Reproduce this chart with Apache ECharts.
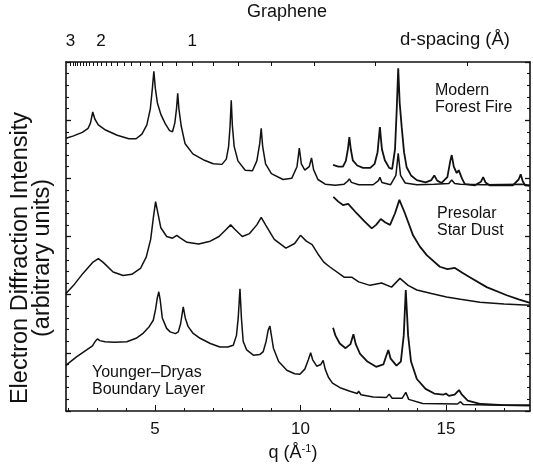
<!DOCTYPE html>
<html>
<head>
<meta charset="utf-8">
<script src="https://cdn.jsdelivr.net/npm/echarts@6/dist/echarts.min.js"></script>
<style>
html,body{margin:0;padding:0;background:#fff;}
#chart{width:533px;height:468px;}
</style>
</head>
<body>
<div id="chart"></div>
<script>
// ---- axis ranges / ticks ----
const xRange = [1.94, 17.89];
const yRange = [0, 6];
const xMajorTicks = [5, 10, 15];
const xMinorTicks = [2, 3, 4, 6, 7, 8, 9, 11, 12, 13, 14, 16, 17];
const dTickValues = [3.0, 2.9, 2.8, 2.7, 2.6, 2.5, 2.4, 2.3, 2.2, 2.1, 2.0, 1.9, 1.8, 1.7, 1.6, 1.5, 1.4, 1.3, 1.2, 1.1, 1.0, 0.9, 0.8, 0.7, 0.6, 0.5, 0.4];
const dLabelValues = [3, 2, 1];

// ---- series (q in 1/Å, intensity arbitrary, offset stacks) ----
const fireMain = [[1.94,4.69],[2.2,4.73],[2.5,4.79],[2.7,4.86],[2.78,4.95],[2.86,5.14],[2.93,5.02],[3.05,4.92],[3.3,4.83],[3.7,4.74],[4.1,4.68],[4.35,4.68],[4.55,4.76],[4.72,4.92],[4.84,5.2],[4.91,5.55],[4.96,5.84],[5.01,5.55],[5.08,5.3],[5.2,5.1],[5.35,4.94],[5.5,4.82],[5.6,4.8],[5.68,4.95],[5.74,5.2],[5.78,5.46],[5.82,5.2],[5.9,4.9],[6.03,4.6],[6.3,4.42],[6.7,4.31],[7.0,4.25],[7.3,4.24],[7.45,4.33],[7.53,4.55],[7.58,4.9],[7.62,5.34],[7.66,4.9],[7.72,4.55],[7.85,4.3],[8.1,4.14],[8.35,4.13],[8.5,4.3],[8.6,4.6],[8.65,4.86],[8.7,4.55],[8.8,4.25],[9.0,4.08],[9.4,3.98],[9.7,4.0],[9.88,4.2],[9.96,4.52],[10.03,4.25],[10.15,4.14],[10.3,4.2],[10.38,4.35],[10.45,4.15],[10.6,3.98],[10.85,3.9],[11.2,3.88],[11.5,3.9],[11.62,3.95],[11.68,3.99],[11.75,3.93],[12.0,3.89],[12.5,3.89],[12.68,3.96],[12.73,4.02],[12.8,3.93],[13.1,3.89],[13.28,4.05],[13.36,4.43],[13.44,4.05],[13.6,3.92],[14.0,3.89],[14.6,3.9],[15.1,3.91],[15.2,3.97],[15.3,3.91],[15.5,3.9],[16.3,3.89],[17.6,3.9],[17.89,3.88]];
const fireInset = [[11.12,4.23],[11.3,4.2],[11.46,4.2],[11.56,4.3],[11.63,4.5],[11.68,4.71],[11.73,4.5],[11.8,4.31],[11.95,4.22],[12.15,4.18],[12.4,4.18],[12.55,4.25],[12.65,4.45],[12.73,4.88],[12.8,4.5],[12.9,4.31],[13.05,4.18],[13.15,4.16],[13.25,4.5],[13.31,5.2],[13.36,5.89],[13.41,5.3],[13.48,4.88],[13.56,4.45],[13.65,4.19],[13.8,4.05],[14.0,3.97],[14.3,3.93],[14.5,3.97],[14.6,4.05],[14.7,3.96],[14.85,3.92],[15.05,4.02],[15.15,4.3],[15.2,4.4],[15.27,4.2],[15.37,4.09],[15.44,4.14],[15.48,4.16],[15.55,4.0],[15.65,3.9],[16.0,3.88],[16.2,3.94],[16.28,4.02],[16.36,3.93],[16.5,3.88],[17.3,3.88],[17.5,3.98],[17.57,4.07],[17.64,3.95],[17.72,3.88],[17.89,3.87]];
const dustMain = [[1.94,2.02],[2.2,2.16],[2.53,2.37],[2.87,2.56],[3.05,2.62],[3.21,2.56],[3.56,2.39],[3.9,2.33],[4.2,2.35],[4.5,2.45],[4.7,2.65],[4.85,2.95],[4.95,3.35],[5.02,3.6],[5.08,3.45],[5.2,3.15],[5.4,3.0],[5.6,2.97],[5.75,3.02],[5.85,2.98],[6.1,2.9],[6.5,2.87],[6.9,2.92],[7.2,3.0],[7.4,3.1],[7.6,3.2],[7.75,3.12],[8.0,3.0],[8.25,3.05],[8.5,3.2],[8.65,3.33],[8.8,3.2],[9.1,2.95],[9.5,2.8],[9.8,2.88],[10.0,3.02],[10.2,2.92],[10.4,2.86],[10.6,2.7],[10.8,2.56],[11.0,2.48],[11.5,2.3],[11.76,2.3],[12.0,2.22],[12.39,2.16],[12.79,2.2],[13.13,2.13],[13.42,2.28],[13.7,2.16],[14.0,2.08],[14.5,2.02],[15.02,1.96],[15.5,1.92],[16.17,1.87],[17.0,1.84],[17.89,1.82]];
const dustInset = [[11.13,3.68],[11.3,3.6],[11.46,3.54],[11.64,3.56],[11.93,3.4],[12.2,3.26],[12.45,3.14],[12.6,3.2],[12.76,3.3],[12.92,3.24],[13.08,3.2],[13.25,3.4],[13.4,3.63],[13.59,3.4],[13.87,3.02],[14.1,2.83],[14.34,2.68],[14.79,2.48],[15.05,2.44],[15.31,2.46],[15.55,2.38],[15.82,2.3],[16.4,2.13],[17.09,1.99],[17.5,1.92],[17.89,1.86]];
const ydMain = [[1.94,0.78],[2.02,0.82],[2.3,0.93],[2.65,1.05],[2.85,1.12],[2.95,1.2],[3.02,1.24],[3.1,1.21],[3.28,1.19],[3.6,1.18],[4.03,1.19],[4.35,1.25],[4.6,1.34],[4.8,1.45],[4.94,1.56],[5.02,1.75],[5.08,1.95],[5.13,2.05],[5.18,1.9],[5.25,1.6],[5.4,1.42],[5.52,1.36],[5.7,1.33],[5.8,1.36],[5.88,1.5],[5.97,1.79],[6.04,1.6],[6.14,1.45],[6.3,1.34],[6.55,1.25],[6.9,1.16],[7.23,1.10],[7.5,1.1],[7.69,1.13],[7.8,1.3],[7.86,1.6],[7.92,2.1],[7.97,1.6],[8.03,1.2],[8.15,1.05],[8.38,0.96],[8.6,0.97],[8.72,1.02],[8.82,1.2],[8.89,1.39],[8.95,1.46],[9.0,1.3],[9.07,1.08],[9.25,0.85],[9.53,0.7],[9.8,0.64],[9.98,0.63],[10.15,0.72],[10.27,0.88],[10.35,1.0],[10.42,0.88],[10.56,0.77],[10.7,0.8],[10.78,0.87],[10.85,0.72],[10.96,0.58],[11.1,0.48],[11.36,0.4],[11.7,0.34],[11.95,0.3],[12.0,0.34],[12.08,0.28],[12.5,0.24],[12.95,0.23],[13.05,0.29],[13.15,0.22],[13.5,0.22],[13.62,0.32],[13.72,0.2],[14.2,0.13],[15.4,0.12],[15.5,0.16],[15.6,0.11],[17.89,0.09]];
const ydInset = [[11.12,1.43],[11.2,1.3],[11.35,1.16],[11.55,1.08],[11.72,1.15],[11.82,1.32],[11.9,1.15],[12.05,0.98],[12.3,0.85],[12.6,0.76],[12.85,0.8],[12.95,0.95],[13.02,1.05],[13.1,0.9],[13.3,0.78],[13.45,0.85],[13.55,1.3],[13.62,2.08],[13.7,1.3],[13.8,0.85],[14.0,0.55],[14.3,0.38],[14.6,0.3],[14.9,0.28],[15.0,0.3],[15.1,0.26],[15.3,0.28],[15.45,0.36],[15.55,0.28],[15.75,0.18],[16.2,0.12],[17.0,0.1],[17.89,0.1]];

// ---- texts ----
const topTitle = 'Graphene';
const topAxisName = 'd-spacing (Å)';
const yTitle1 = 'Electron Diffraction Intensity';
const yTitle2 = '(arbitrary units)';
const curveLabels = [['Modern', 'Forest Fire'], ['Presolar', 'Star Dust'], ['Younger–Dryas', 'Boundary Layer']];

const TWO_PI = 2 * Math.PI;
const FONT = "'Liberation Sans', Arial, Helvetica, sans-serif";
const INK = '#111';

const chart = echarts.init(document.getElementById('chart'), null, {renderer: 'canvas'});

const xAxes = [
  {type: 'value', position: 'bottom', min: xRange[0], max: xRange[1], splitLine: {show: false},
   axisLine: {show: true, onZero: false, lineStyle: {color: INK, width: 1.6}},
   axisTick: {show: false},
   axisLabel: {show: true, customValues: xMajorTicks, margin: 10, fontSize: 17, color: INK, fontFamily: FONT}},
  {type: 'value', position: 'top', min: xRange[0], max: xRange[1], splitLine: {show: false},
   axisLine: {show: true, onZero: false, lineStyle: {color: INK, width: 1.6}},
   axisTick: {show: false},
   axisLabel: {show: true, customValues: dLabelValues.map(d => TWO_PI / d), margin: 12, fontSize: 17, color: INK, fontFamily: FONT,
     formatter: v => String(Math.round(TWO_PI / v))}}
];

function yAxisBase(pos) {
  return {
    type: 'value', position: pos, min: yRange[0], max: yRange[1], interval: 1,
    axisLine: {show: true, onZero: false, lineStyle: {color: INK, width: 1.6}},
    axisTick: {show: true, inside: true, length: 5, lineStyle: {color: INK, width: 1.3}},
    minorTick: {show: true, splitNumber: 5, length: 3, lineStyle: {color: INK, width: 1.1}},
    axisLabel: {show: false}, splitLine: {show: false}, minorSplitLine: {show: false}
  };
}

function lineSeries(name, data, w) {
  return {name, type: 'line', data, xAxisIndex: 0, yAxisIndex: 0, showSymbol: false, symbol: 'none',
    smooth: false, lineStyle: {color: INK, width: w}, silent: true, animation: false, z: 3};
}

// tick marks drawn through the axis scale (api.coord), snapped to the pixel grid
function tickSeries(values, edge, len) {
  return {type: 'custom', xAxisIndex: 0, yAxisIndex: 0, silent: true, animation: false, z: 5, clip: false,
    data: values.map(v => [v]),
    renderItem: function (params, api) {
      const q = api.value(0);
      const p = api.coord([q, edge === 'top' ? yRange[1] : yRange[0]]);
      const dir = edge === 'top' ? 1 : -1;
      const x = Math.round(p[0]) + 0.5;
      return {type: 'line', shape: {x1: x, y1: p[1], x2: x, y2: p[1] + dir * len},
        style: {stroke: INK, lineWidth: 1}};
    }};
}

function txt(x, y, s, size, extra) {
  return {type: 'text', x, y, style: Object.assign({text: s, fill: INK, font: size + 'px ' + FONT, align: 'left', verticalAlign: 'middle'}, extra || {})};
}

const graphics = [
  txt(287, 12, topTitle, 18, {align: 'center'}),
  txt(510, 40, topAxisName, 18.5, {align: 'right'}),
  {type: 'text', x: 293, y: 453, style: {
    text: '{a|q (Å}{s|-1}{a|)}', fill: INK, align: 'center', verticalAlign: 'middle',
    rich: {a: {fontSize: 18, fontFamily: FONT, fill: INK}, s: {fontSize: 11, fontFamily: FONT, fill: INK, padding: [0, 0, 9, 0]}}}},
  {type: 'text', x: 21, y: 258, rotation: Math.PI / 2, style: {text: yTitle1, fill: INK, font: '23.5px ' + FONT, align: 'center', verticalAlign: 'middle'}},
  {type: 'text', x: 43, y: 258, rotation: Math.PI / 2, style: {text: yTitle2, fill: INK, font: '23.5px ' + FONT, align: 'center', verticalAlign: 'middle'}},
  txt(435, 91, curveLabels[0][0], 16),
  txt(435, 108, curveLabels[0][1], 16),
  txt(437, 214, curveLabels[1][0], 16),
  txt(437, 231, curveLabels[1][1], 16),
  txt(92, 373, curveLabels[2][0], 16),
  txt(92, 390, curveLabels[2][1], 16)
];

chart.setOption({
  animation: false,
  backgroundColor: '#fff',
  grid: {left: 66, right: 3, top: 62, bottom: 57, containLabel: false},
  xAxis: xAxes,
  yAxis: [yAxisBase('left'), yAxisBase('right')],
  series: [
    lineSeries('Modern Forest Fire', fireMain, 1.5),
    lineSeries('Modern Forest Fire (magnified)', fireInset, 1.8),
    lineSeries('Presolar Star Dust', dustMain, 1.5),
    lineSeries('Presolar Star Dust (magnified)', dustInset, 1.8),
    lineSeries('Younger-Dryas Boundary Layer', ydMain, 1.5),
    lineSeries('Younger-Dryas Boundary Layer (magnified)', ydInset, 1.8),
    tickSeries(xMajorTicks, 'bottom', 6),
    tickSeries(xMinorTicks, 'bottom', 3),
    tickSeries(dTickValues.map(d => TWO_PI / d), 'top', 4)
  ],
  graphic: graphics
});
</script>
</body>
</html>
